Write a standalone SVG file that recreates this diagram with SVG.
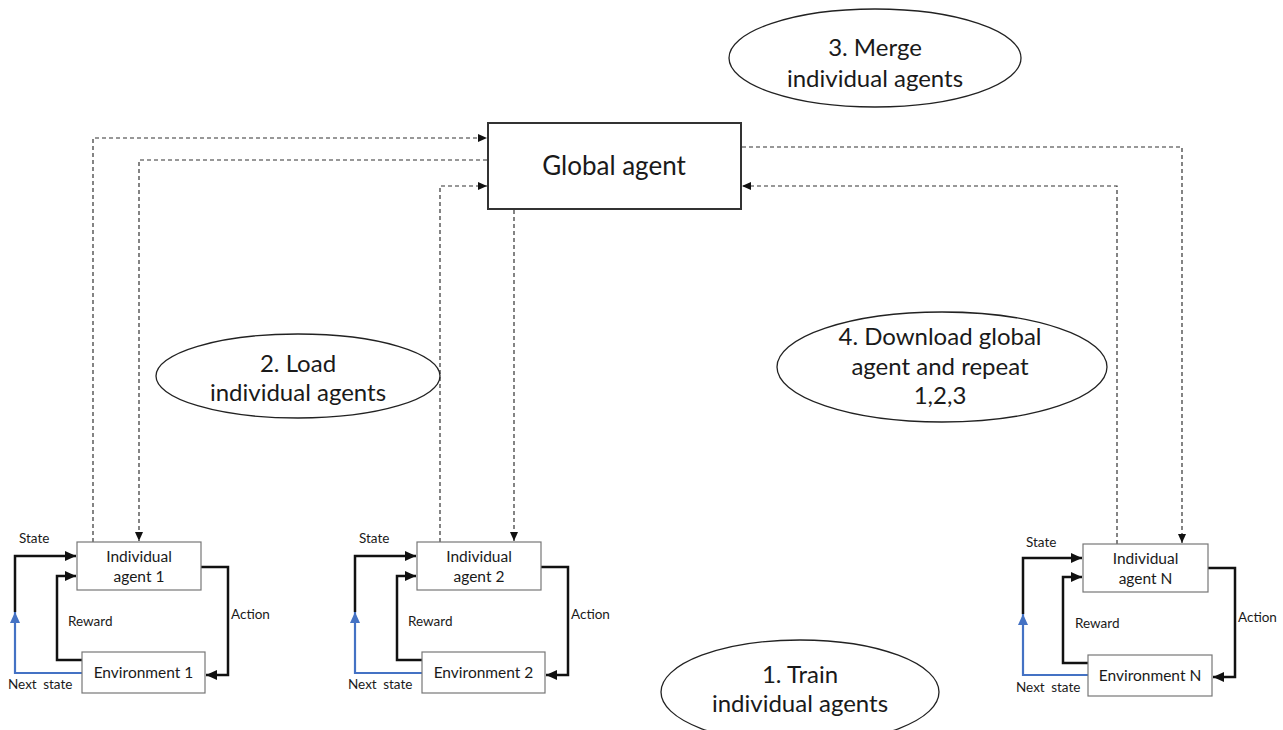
<svg xmlns="http://www.w3.org/2000/svg" width="1283" height="730" viewBox="0 0 1283 730">
<style>
text{font-family:Lato,"Liberation Sans",sans-serif;fill:#1a1a1a}
.big{font-size:24px;text-anchor:middle}
.glob{font-size:26px;text-anchor:middle}
.box{font-size:15.5px;text-anchor:middle}
.lbl{font-size:13.5px}
.ns{word-spacing:3px}
.ell{fill:#fff;stroke:#222;stroke-width:1.3}
.sbox{fill:#fff;stroke:#777;stroke-width:1.2}
.gbox{fill:#fff;stroke:#333;stroke-width:2}
.dash{fill:none;stroke:#333;stroke-width:1.2;stroke-dasharray:4 3}
.solid{fill:none;stroke:#111;stroke-width:2.5}
.blue{fill:none;stroke:#4472c4;stroke-width:2.2}
</style>
<defs>
<marker id="ah" markerUnits="userSpaceOnUse" markerWidth="12" markerHeight="10" refX="11" refY="5" orient="auto">
<path d="M0,0 L11,5 L0,10 Z" fill="#111"/>
</marker>
<marker id="ahb" markerUnits="userSpaceOnUse" markerWidth="12" markerHeight="10" refX="11" refY="5" orient="auto">
<path d="M0,0 L11,5 L0,10 Z" fill="#4472c4"/>
</marker>
<marker id="ahd" markerUnits="userSpaceOnUse" markerWidth="10" markerHeight="8" refX="9" refY="4" orient="auto">
<path d="M0,0 L9,4 L0,8 Z" fill="#111"/>
</marker>
</defs>
<g id="connectors">
<path class="dash" d="M93,542 V138 H487" marker-end="url(#ahd)"/>
<path class="dash" d="M487,160 H139 V541" marker-end="url(#ahd)"/>
<path class="dash" d="M440,542 V186 H487" marker-end="url(#ahd)"/>
<path class="dash" d="M514,210 V541" marker-end="url(#ahd)"/>
<path class="dash" d="M742,147 H1182 V543" marker-end="url(#ahd)"/>
<path class="dash" d="M1117,544 V186 H742" marker-end="url(#ahd)"/>
<path class="solid" d="M15,612 V556 H76" marker-end="url(#ah)"/>
<path class="blue" d="M82,673 H15 V612" marker-end="url(#ahb)"/>
<path class="solid" d="M82,660 H57 V576 H76" marker-end="url(#ah)"/>
<path class="solid" d="M201,567 H228 V675 H206" marker-end="url(#ah)"/>
<path class="solid" d="M355,612 V556 H416" marker-end="url(#ah)"/>
<path class="blue" d="M422,673 H355 V612" marker-end="url(#ahb)"/>
<path class="solid" d="M422,660 H397 V576 H416" marker-end="url(#ah)"/>
<path class="solid" d="M541,567 H568 V675 H546" marker-end="url(#ah)"/>
<path class="solid" d="M1023,614 V558 H1082" marker-end="url(#ah)"/>
<path class="blue" d="M1088,675 H1023 V614" marker-end="url(#ahb)"/>
<path class="solid" d="M1088,663 H1063 V577 H1082" marker-end="url(#ah)"/>
<path class="solid" d="M1208,568 H1235 V677 H1213" marker-end="url(#ah)"/>
</g>
<g id="global-agent">
<rect class="gbox" x="488" y="123" width="253" height="86"/>
<text class="glob" x="614" y="175">Global agent</text>
</g>
<g id="step3">
<ellipse class="ell" cx="875" cy="58" rx="146" ry="49"/>
<text class="big" x="875" y="56">3. Merge</text>
<text class="big" x="875" y="87">individual agents</text>
</g>
<g id="step2">
<ellipse class="ell" cx="298" cy="376" rx="142" ry="42"/>
<text class="big" x="298" y="372">2. Load</text>
<text class="big" x="298" y="401">individual agents</text>
</g>
<g id="step4">
<ellipse class="ell" cx="942" cy="367" rx="165" ry="55"/>
<text class="big" x="940" y="345">4. Download global</text>
<text class="big" x="940" y="375">agent and repeat</text>
<text class="big" x="940" y="404">1,2,3</text>
</g>
<g id="step1">
<ellipse class="ell" cx="800" cy="692" rx="139" ry="52"/>
<text class="big" x="800" y="683">1. Train</text>
<text class="big" x="800" y="712">individual agents</text>
</g>
<g id="agent1">
<rect class="sbox" x="77" y="542" width="124" height="48"/>
<text class="box" x="139" y="562">Individual</text>
<text class="box" x="139" y="582">agent 1</text>
</g>
<g id="env1">
<rect class="sbox" x="82" y="652" width="123" height="41"/>
<text class="box" x="143.5" y="678">Environment 1</text>
</g>
<g id="labels1">
<text class="lbl" x="19" y="543">State</text>
<text class="lbl" x="68" y="626">Reward</text>
<text class="lbl" x="231" y="619">Action</text>
<text class="lbl ns" x="8" y="689">Next state</text>
</g>
<g id="agent2">
<rect class="sbox" x="417" y="542" width="124" height="48"/>
<text class="box" x="479" y="562">Individual</text>
<text class="box" x="479" y="582">agent 2</text>
</g>
<g id="env2">
<rect class="sbox" x="422" y="652" width="123" height="41"/>
<text class="box" x="483.5" y="678">Environment 2</text>
</g>
<g id="labels2">
<text class="lbl" x="359" y="543">State</text>
<text class="lbl" x="408" y="626">Reward</text>
<text class="lbl" x="571" y="619">Action</text>
<text class="lbl ns" x="348" y="689">Next state</text>
</g>
<g id="agentN">
<rect class="sbox" x="1083" y="544" width="125" height="48"/>
<text class="box" x="1145.5" y="564">Individual</text>
<text class="box" x="1145.5" y="584">agent N</text>
</g>
<g id="envN">
<rect class="sbox" x="1088" y="655" width="124" height="41"/>
<text class="box" x="1150" y="681">Environment N</text>
</g>
<g id="labelsN">
<text class="lbl" x="1026" y="547">State</text>
<text class="lbl" x="1075" y="628">Reward</text>
<text class="lbl" x="1238" y="622">Action</text>
<text class="lbl ns" x="1016" y="692">Next state</text>
</g>
</svg>
